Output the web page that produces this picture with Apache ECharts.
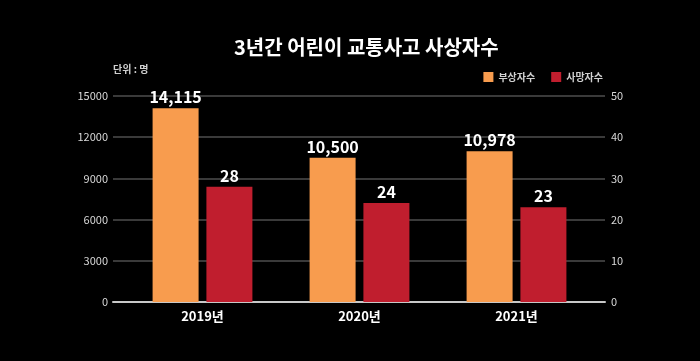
<!DOCTYPE html>
<html><head><meta charset="utf-8">
<script src="https://cdn.jsdelivr.net/npm/echarts@6/dist/echarts.min.js"></script>
<style>html,body{margin:0;padding:0;background:#000;}#c{width:700px;height:361px;}</style>
</head><body><div id="c"></div>
<script>
const categories = ['2019년', '2020년', '2021년'];
const injured = [14115, 10500, 10978];
const deaths = [28, 24, 23];
const leftTicks = { min: 0, max: 15000, interval: 3000 };
const rightTicks = { min: 0, max: 50, interval: 10 };
const seriesNames = ['부상자수', '사망자수'];

const FONT = '"Noto Sans CJK KR", "Noto Sans", sans-serif';
function comma(v) { return String(v).replace(/\B(?=(\d{3})+(?!\d))/g, ','); }

const chart = echarts.init(document.getElementById('c'));
chart.setOption({
  backgroundColor: '#000',
  animation: false,
  textStyle: { fontFamily: FONT },
  title: {
    text: '3년간 어린이 교통사고 사상자수',
    left: 229, top: 32,
    textStyle: { color: '#fff', fontSize: 20, fontWeight: 'bold', fontFamily: FONT }
  },
  graphic: [{
    type: 'text', left: 113, top: 64,
    style: { text: '단위 : 명', fill: '#d0d0d0', font: 'bold 10px ' + FONT }
  }],
  legend: {
    right: 92, top: 67,
    itemWidth: 10, itemHeight: 10, itemGap: 16,
    icon: 'rect',
    textStyle: { color: '#d0d0d0', fontSize: 10, fontWeight: 'bold', fontFamily: FONT },
    data: seriesNames
  },
  grid: [
    { left: 113, right: 95, top: 96, bottom: 59 },
    { left: 124, right: 105, top: 96, bottom: 59 }
  ],
  xAxis: [
    { type: 'category', gridIndex: 0, data: categories,
      axisLine: { lineStyle: { color: '#c8c8c8', width: 2 } },
      axisTick: { show: false }, axisLabel: { show: false }, splitLine: { show: false } },
    { type: 'category', gridIndex: 1, data: categories,
      axisLine: { show: false }, axisTick: { show: false },
      axisLabel: { color: '#fff', fontSize: 13, fontWeight: 'bold', margin: 8, fontFamily: FONT } }
  ],
  yAxis: [
    { type: 'value', gridIndex: 0, position: 'left', min: leftTicks.min, max: leftTicks.max, interval: leftTicks.interval,
      axisLine: { show: false }, axisTick: { show: false },
      axisLabel: { color: '#d8d8d8', fontSize: 11, margin: 5, fontFamily: FONT, formatter: v => String(v) },
      splitLine: { lineStyle: { color: '#3a3a3a', width: 2 } } },
    { type: 'value', gridIndex: 0, position: 'right', min: rightTicks.min, max: rightTicks.max, interval: rightTicks.interval,
      axisLine: { show: false }, axisTick: { show: false },
      axisLabel: { color: '#d8d8d8', fontSize: 11, margin: 6, fontFamily: FONT, formatter: v => String(v) },
      splitLine: { show: false } },
    { type: 'value', gridIndex: 1, min: leftTicks.min, max: leftTicks.max, show: false },
    { type: 'value', gridIndex: 1, min: rightTicks.min, max: rightTicks.max, show: false }
  ],
  series: [
    { name: seriesNames[0], type: 'bar', xAxisIndex: 1, yAxisIndex: 2, data: injured,
      barWidth: 46, barGap: '17%',
      itemStyle: { color: '#f89c4e' },
      label: { show: true, position: 'top', distance: 3, color: '#fff', fontSize: 16, fontWeight: 'bold', fontFamily: FONT,
        formatter: p => comma(p.value) } },
    { name: seriesNames[1], type: 'bar', xAxisIndex: 1, yAxisIndex: 3, data: deaths,
      barWidth: 46, barGap: '17%',
      itemStyle: { color: '#c01e2e' },
      label: { show: true, position: 'top', distance: 3, color: '#fff', fontSize: 16, fontWeight: 'bold', fontFamily: FONT,
        formatter: p => comma(p.value) } }
  ]
});
</script></body></html>
